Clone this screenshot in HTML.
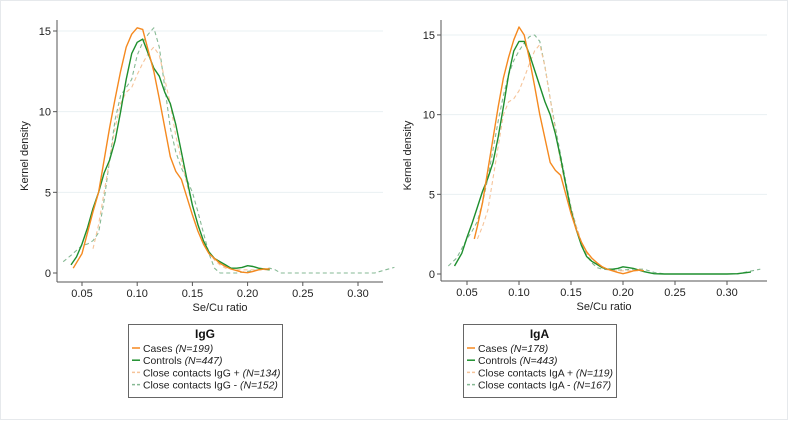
<!DOCTYPE html>
<html><head><meta charset="utf-8"><style>
body{margin:0;background:#fff;}
svg{display:block;font-family:"Liberation Sans",Arial,sans-serif;}
</style></head><body>
<svg id="c" width="788" height="421" viewBox="0 0 788 421" xmlns="http://www.w3.org/2000/svg">
<rect x="0.5" y="0.5" width="787" height="419" fill="#fff" stroke="#e6e9ec"/>
</svg>
<script>
// ---- Data ----
const ticksX = [0.05,0.10,0.15,0.20,0.25,0.30];
const ticksXLabels = ["0.05","0.10","0.15","0.20","0.25","0.30"];
const ticksY = [0,5,10,15];
const ticksYLabels = ["0","5","10","15"];

const gCasesX = [0.042,0.05,0.055,0.06,0.065,0.07,0.075,0.08,0.085,0.09,0.095,0.10,0.105,0.11,0.115,0.12,0.125,0.13,0.135,0.14,0.145,0.15,0.155,0.16,0.165,0.17,0.175,0.18,0.185,0.19,0.195,0.2,0.205,0.21,0.215,0.22];
const gCasesY = [0.3,1.2,2.5,3.8,5.0,7,9,10.8,12.5,14,14.8,15.2,15.1,13.8,12.5,10.8,9,7.2,6.3,5.8,4.7,3.6,2.6,1.8,1.2,0.9,0.6,0.4,0.25,0.15,0.05,0.02,0.1,0.2,0.25,0.25];
const gCtrlX = [0.04,0.045,0.05,0.055,0.06,0.065,0.07,0.075,0.08,0.085,0.09,0.095,0.10,0.105,0.11,0.115,0.12,0.125,0.13,0.135,0.14,0.145,0.15,0.155,0.16,0.165,0.17,0.175,0.18,0.185,0.19,0.195,0.2,0.205,0.21,0.215,0.22];
const gCtrlY = [0.5,1,1.8,2.8,4,5,6.2,7,8.2,10,12,13.6,14.3,14.5,13.6,12.7,12.2,11.2,10.5,9.2,7.5,5.8,4.2,3,2,1.3,0.9,0.7,0.5,0.3,0.3,0.35,0.45,0.4,0.3,0.25,0.2];
const gPosX = [0.06,0.065,0.07,0.075,0.08,0.085,0.09,0.095,0.1,0.105,0.11,0.115,0.12,0.125,0.13,0.135,0.14,0.145,0.15,0.155,0.16,0.165,0.17,0.175,0.18,0.19,0.2,0.21,0.22];
const gPosY = [1.5,3,5,7,9,10.5,11.2,11.5,12.3,13,13.6,14,13.5,12,10.5,8.5,7,5.5,4.2,3,2,1.3,0.8,0.5,0.3,0.2,0.2,0.2,0.2];
const gNegX = [0.033,0.04,0.045,0.05,0.055,0.06,0.065,0.07,0.075,0.08,0.085,0.09,0.095,0.10,0.105,0.11,0.115,0.12,0.125,0.13,0.135,0.14,0.145,0.15,0.155,0.16,0.165,0.17,0.175,0.19,0.2,0.21,0.22,0.225,0.23,0.315,0.325,0.333];
const gNegY = [0.7,1.1,1.4,1.7,1.8,2,2.5,4.5,7,9.5,11,11.5,12,13.5,14.3,14.8,15.2,14,11.5,9,7.5,6.5,5.8,5,3.8,2.5,1.2,0.3,0,0,0.1,0.2,0.3,0.2,0,0,0.2,0.35];

const aCasesX = [0.057,0.06,0.065,0.07,0.075,0.08,0.085,0.09,0.095,0.10,0.105,0.11,0.115,0.12,0.125,0.13,0.135,0.14,0.145,0.15,0.155,0.16,0.165,0.17,0.175,0.18,0.185,0.19,0.195,0.2,0.205,0.21,0.215,0.22];
const aCasesY = [2.2,3,4.5,6.5,8.5,10.5,12.3,13.6,14.7,15.5,15,13.5,11.8,10,8.5,7,6.5,6.2,5,3.8,2.8,2,1.4,1,0.7,0.45,0.3,0.2,0.1,0.02,0.1,0.2,0.25,0.2];
const aCtrlX = [0.038,0.045,0.05,0.055,0.06,0.065,0.07,0.075,0.08,0.085,0.09,0.095,0.1,0.105,0.11,0.115,0.12,0.125,0.13,0.135,0.14,0.145,0.15,0.155,0.16,0.165,0.17,0.175,0.18,0.185,0.19,0.195,0.2,0.205,0.21,0.215,0.22,0.225,0.23,0.24,0.30,0.31,0.32,0.323];
const aCtrlY = [0.5,1.3,2.3,3.2,4.2,5.2,6,7,8.6,10.5,12.5,14,14.6,14.6,13.8,12.8,11.8,10.8,10,8.8,7.3,5.6,4,2.8,1.8,1.1,0.8,0.6,0.4,0.3,0.3,0.35,0.45,0.4,0.35,0.25,0.15,0.08,0.02,0,0,0.02,0.1,0.12];
const aPosX = [0.06,0.065,0.07,0.075,0.08,0.085,0.09,0.095,0.10,0.105,0.11,0.115,0.12,0.125,0.13,0.135,0.14,0.145,0.15,0.155,0.16,0.165,0.17,0.18,0.19,0.2,0.21,0.22];
const aPosY = [2.2,3,4,6,8,10,10.8,11,11.5,12.3,13.2,14,14.4,13,11,9,7,5.5,4.2,3,2,1.3,0.8,0.4,0.2,0.2,0.2,0.2];
const aNegX = [0.032,0.04,0.045,0.05,0.055,0.06,0.065,0.07,0.075,0.08,0.085,0.09,0.095,0.1,0.105,0.11,0.115,0.12,0.125,0.13,0.135,0.14,0.145,0.15,0.155,0.16,0.165,0.17,0.175,0.18,0.19,0.2,0.21,0.22,0.23,0.24,0.31,0.32,0.332];
const aNegY = [0.5,1,1.6,2.2,2.7,3.3,4.5,6,7.8,9.6,11.2,12.5,13.4,14,14.5,14.9,15,14.6,13,11,9.2,7.5,5.8,4.2,3,2,1.2,0.7,0.4,0.3,0.25,0.25,0.3,0.3,0.1,0,0,0.15,0.3];

const legendG = ["Cases ", "Controls ", "Close contacts IgG + ", "Close contacts IgG - "];
const legendGN = ["(N=199)","(N=447)","(N=134)","(N=152)"];
const legendA = ["Cases ", "Controls ", "Close contacts IgA + ", "Close contacts IgA - "];
const legendAN = ["(N=178)","(N=443)","(N=119)","(N=167)"];

// ---- Drawing ----
const NS = "http://www.w3.org/2000/svg";
const svg = document.getElementById('c');
function mk(tag, attrs, parent){
  const e = document.createElementNS(NS, tag);
  for (const k in attrs) e.setAttribute(k, attrs[k]);
  (parent||svg).appendChild(e);
  return e;
}
const styles = [
  {stroke:"#f5891f", dash:null, w:1.4},
  {stroke:"#1e8f2e", dash:null, w:1.4},
  {stroke:"#f6c49a", dash:"4,3", w:1.1},
  {stroke:"#86b994", dash:"4,3", w:1.1}
];
function panel(cfg){
  const g = mk('g', {});
  
  
  const sx = v => cfg.x05 + (v-0.05)/0.05*cfg.dx;
  const sy = v => cfg.y0 - v/15*(cfg.y0-cfg.y15);
  ticksY.forEach((t,i)=>{
    if (t>0){
      const l = mk('line',{x1:cfg.left+1,x2:cfg.right,y1:sy(t),y2:sy(t),stroke:"#eaf0f3","stroke-width":1},g);
      
      
    }
    const tk = mk('line',{x1:cfg.left-4,x2:cfg.left,y1:sy(t),y2:sy(t),stroke:"#555"},g);
    
    
    const tx = mk('text',{x:cfg.left-6,y:sy(t)+4,"text-anchor":"end","font-size":11,fill:"#222"},g);
    tx.textContent = ticksYLabels[i];
    
    
  });
  ticksX.forEach((t,i)=>{
    const tk = mk('line',{x1:sx(t),x2:sx(t),y1:cfg.bottom,y2:cfg.bottom+4,stroke:"#555"},g);
    
    
    const tx = mk('text',{x:sx(t),y:cfg.bottom+15,"text-anchor":"middle","font-size":11,fill:"#222"},g);
    tx.textContent = ticksXLabels[i];
    
    
  });
  const ax = mk('line',{x1:cfg.left,x2:cfg.left,y1:cfg.top,y2:cfg.bottom,stroke:"#555"},g);
  
  
  const ay = mk('line',{x1:cfg.left,x2:cfg.right,y1:cfg.bottom,y2:cfg.bottom,stroke:"#555"},g);
  
  
  const yt = mk('text',{x:0,y:0,"font-size":11,fill:"#222","text-anchor":"middle",transform:`translate(${cfg.left-cfg.ytOff},${(cfg.top+cfg.bottom)/2+5}) rotate(-90)`},g);
  yt.textContent = "Kernel density";
  
  
  const xt = mk('text',{x:(cfg.left+cfg.right)/2,y:cfg.bottom+29,"font-size":11,fill:"#222","text-anchor":"middle"},g);
  xt.textContent = "Se/Cu ratio";
  
  
  [3,2,1,0].forEach(si=>{
    const xs = cfg.series[si][0], ys = cfg.series[si][1];
    const pts = xs.map((x,i)=>sx(x).toFixed(1)+","+sy(ys[i]).toFixed(1)).join(" ");
    const a = {points:pts,fill:"none",stroke:styles[si].stroke,"stroke-width":styles[si].w,"stroke-linejoin":"round"};
    if (styles[si].dash) a["stroke-dasharray"] = styles[si].dash;
    const p = mk('polyline',a,g);
    
    
  });
  const lg = mk('g',{},g);
  
  
  const lb = mk('rect',{x:cfg.lx+0.5,y:324.5,width:cfg.lw,height:73,fill:"#fff",stroke:"#666"},lg);
  
  
  const lt = mk('text',{x:cfg.lx+cfg.lw/2,y:338,"font-size":12,"font-weight":"bold","text-anchor":"middle",fill:"#111"},lg);
  lt.textContent = cfg.title;
  
  
  cfg.leg.forEach((s,i)=>{
    const y = 352 + i*12.2;
    const a = {x1:cfg.lx+4,x2:cfg.lx+12,y1:y-4,y2:y-4,stroke:styles[i].stroke,"stroke-width":1.5};
    if (styles[i].dash) a["stroke-dasharray"]="3,2";
    const ln = mk('line',a,lg);
    
    
    const t = mk('text',{x:cfg.lx+15,y:y,"font-size":10.4,fill:"#222"},lg);
    
    
    t.appendChild(document.createTextNode(s));
    const ts = mk('tspan',{"font-style":"italic"},t);
    ts.textContent = cfg.legN[i];
  });
}
panel({name:"igg-panel",left:57,right:383,top:20,bottom:282,x05:82,dx:55.2,y0:273,y15:31,ytOff:29,
  series:[[gCasesX,gCasesY],[gCtrlX,gCtrlY],[gPosX,gPosY],[gNegX,gNegY]],
  snames:["line-cases-igg","line-controls-igg","line-contacts-igg-pos","line-contacts-igg-neg"],
  lx:128,lw:154,title:"IgG",leg:legendG,legN:legendGN});
panel({name:"iga-panel",left:441,right:767,top:20,bottom:281,x05:467,dx:52,y0:274,y15:35,ytOff:30,
  series:[[aCasesX,aCasesY],[aCtrlX,aCtrlY],[aPosX,aPosY],[aNegX,aNegY]],
  snames:["line-cases-iga","line-controls-iga","line-contacts-iga-pos","line-contacts-iga-neg"],
  lx:463,lw:153,title:"IgA",leg:legendA,legN:legendAN});
</script>
</body></html>
